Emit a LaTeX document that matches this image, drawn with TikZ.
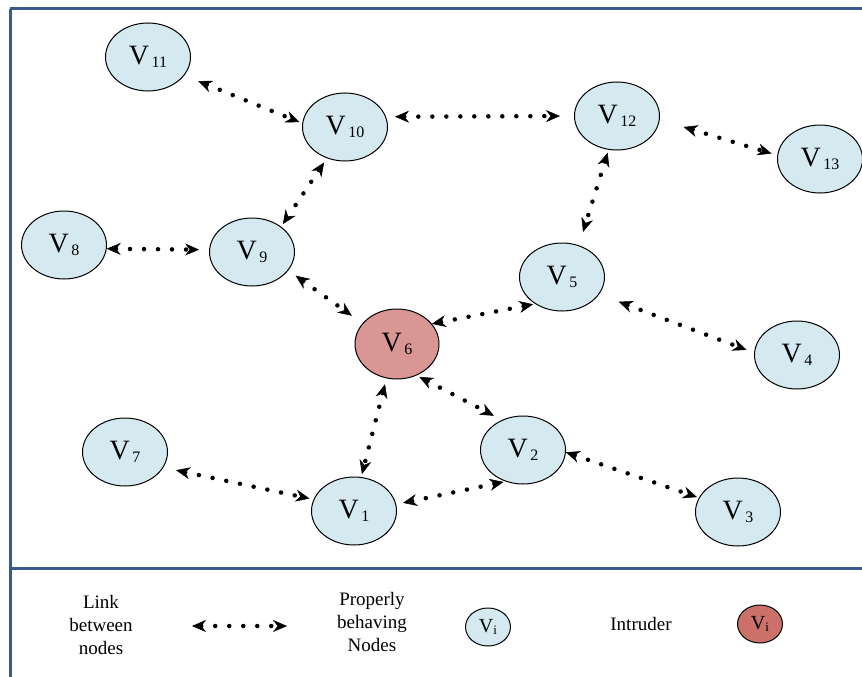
\documentclass[tikz,border=0pt]{standalone}
\usepackage{fontspec}
\setmainfont{Liberation Serif}
\usepackage{tikz}
\usetikzlibrary{shapes.geometric}
\usetikzlibrary{arrows.meta}

\definecolor{framecol}{RGB}{56,90,140}
\definecolor{goodcol}{RGB}{213,234,240}
\definecolor{badcol}{RGB}{217,150,148}
\definecolor{badkeycol}{RGB}{204,112,106}

\newcommand{\vx}[1]{{\fontsize{28}{28}\selectfont V}\hspace{2.5pt}\raisebox{-3pt}{\fontsize{16}{16}\selectfont #1}}
\newcommand{\vkey}{{\fontsize{20}{20}\selectfont V}\raisebox{-2pt}{\fontsize{13}{13}\selectfont i}}

\begin{document}
\begin{tikzpicture}[x=1pt,y=-1pt,line width=1pt]
	\tikzstyle{every node}=[shape=ellipse,draw=black,fill=goodcol,text=black,minimum width=85pt,minimum height=68pt,inner sep=0pt]
	\tikzstyle{every edge}=[draw=black,line width=4.5pt,line cap=round,dash pattern=on 0pt off 14pt,dash phase=0pt,{Stealth[length=14pt,width=12pt,line width=0.5pt]}-{Stealth[length=14pt,width=12pt,line width=0.5pt]}]
	\tikzstyle{keytext}=[shape=rectangle,draw=none,fill=none,align=center,minimum width=0pt,minimum height=0pt,font=\fontsize{19}{23}\selectfont]
	\tikzstyle{keynode}=[minimum width=45pt,minimum height=38pt]
	
	\useasboundingbox (0,0) rectangle (862,677);
	
	% frame
	\draw[framecol,line width=3pt] (10,9) -- (862,9);
	\draw[framecol,line width=2.5pt] (10.5,9) -- (10.5,677);
	\draw[framecol,line width=3pt] (10,568) -- (862,568);
	
	\node (v11) at (148,57)  {\vx{11}};
	\node (v10) at (345,127) {\vx{10}};
	\node (v12) at (617,116) {\vx{12}};
	\node (v13) at (820,159) {\vx{13}};
	\node (v8)  at (64,245)  {\vx{8}};
	\node (v9)  at (252,252) {\vx{9}};
	\node (v5)  at (562,277) {\vx{5}};
	\node (v6)  [fill=badcol,minimum width=84pt,minimum height=70pt] at (397,344) {\vx{6}};
	\node (v4)  at (797,355) {\vx{4}};
	\node (v7)  at (125,452) {\vx{7}};
	\node (v2)  at (523,450) {\vx{2}};
	\node (v1)  at (354,511) {\vx{1}};
	\node (v3)  at (738,512) {\vx{3}};
	
	\draw (v11.333) edge[shorten <=15pt,shorten >=3pt] (v10.175);
	\draw (v10.14)  edge[shorten <=9pt,shorten >=14pt] (v12.180);
	\draw (v12.355) edge[shorten <=25pt,shorten >=6pt] (v13.175);
	\draw (v12.256) edge[shorten <=3pt,shorten >=14pt] (v5.62);
	\draw (v10.240) edge[shorten <=5pt,shorten >=3pt] (v9.41);
	\draw (v8.355)  edge[shorten >=10pt] (v9.177);
	\draw (v9.333)  edge[shorten <=9pt,shorten >=13pt] (v6.149);
	\draw (v6.30)   edge[shorten >=2pt] (v5.225);
	\draw (v5.335)  edge[shorten <=21pt,shorten >=8pt] (v4.177);
	\draw (v6.302)  edge[shorten <=3pt,shorten >=9pt] (v2.125);
	\draw (v6.253)  edge[shorten <=6pt,shorten >=3pt] (v1.78);
	\draw (v7.338)  edge[shorten <=13pt,shorten >=4pt] (v1.164);
	\draw (v1.9)    edge[shorten <=7pt,shorten >=2pt] (v2.241);
	\draw (v2.357)  edge[shorten >=2pt] (v3.160);
	
	% legend
	\node[keytext] (linktxt) at (101,625) {Link\\between\\nodes};
	\coordinate (lk1) at (192,626);
	\coordinate (lk2) at (287,626);
	\draw (lk1) edge (lk2);
	\node[keytext] (goodtxt) at (372,622) {Properly\\behaving\\Nodes};
	\node[keynode] (goodkey) at (488,627) {\vkey};
	\node[keytext] (badtxt) at (641,624) {Intruder};
	\node[keynode,fill=badkeycol] (badkey) at (760,624) {\vkey};
\end{tikzpicture}
\end{document}
